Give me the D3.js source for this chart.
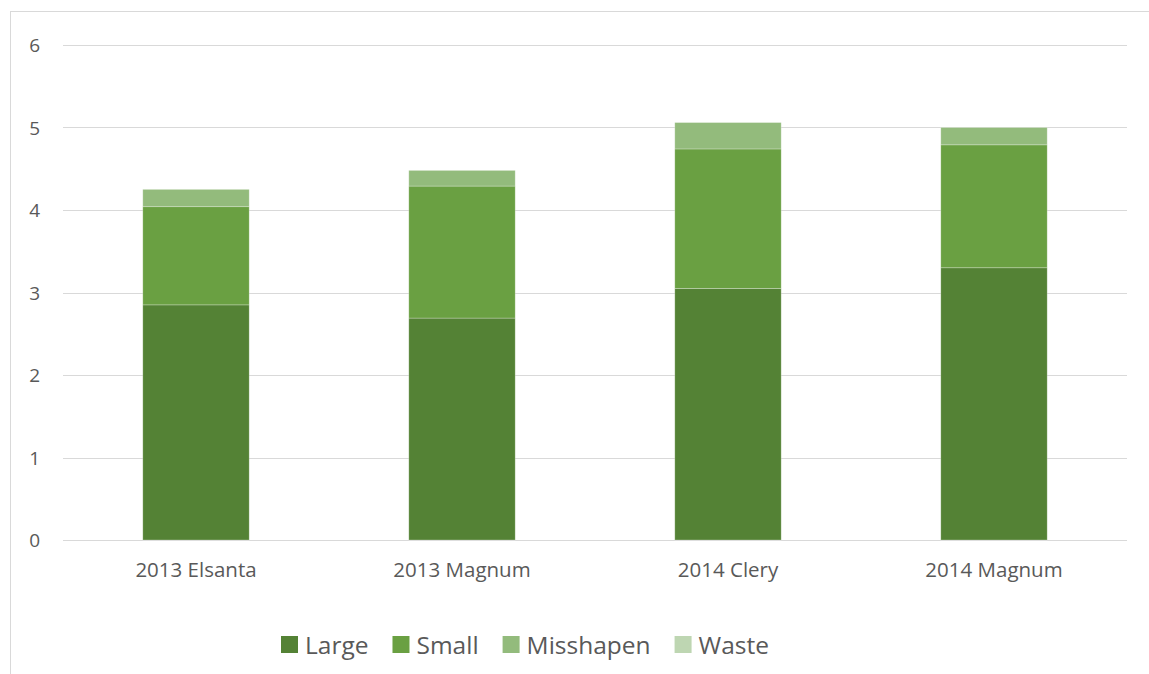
<!DOCTYPE html>
<html><head><meta charset="utf-8">
<script src="https://cdn.jsdelivr.net/npm/d3@7"></script>
<style>body{margin:0;background:#fff;} svg{display:block;font-family:"Open Sans","Liberation Sans",sans-serif;}</style>
</head><body>
<svg id="c" width="1149" height="674"></svg>
<script>
const categories = ["2013 Elsanta", "2013 Magnum", "2014 Clery", "2014 Magnum"];
const seriesNames = ["Large", "Small", "Misshapen", "Waste"];
const large = [2.85, 2.69, 3.05, 3.30];
const small = [1.19, 1.60, 1.69, 1.49];
const misshapen = [0.21, 0.19, 0.32, 0.21];
const waste = [0, 0, 0, 0];
const yTicks = [0, 1, 2, 3, 4, 5, 6];
const colors = ["#548235", "#6aa042", "#93bb7c", "#bed6b2"];

const rows = categories.map((c, i) => ({cat: c, Large: large[i], Small: small[i], Misshapen: misshapen[i], Waste: waste[i]}));
const stack = d3.stack().keys(seriesNames)(rows);

const svg = d3.select("#c");
const FONT = "Open Sans, Liberation Sans, sans-serif";
svg.append("rect").attr("x", 10.5).attr("y", 11.5).attr("width", 1300).attr("height", 800)
  .attr("fill", "none").attr("stroke", "#d9d9d9");

const x = d3.scaleBand().domain(categories).range([63, 1127]).paddingInner(0.6).paddingOuter(0.3);
const y = d3.scaleLinear().domain([0, 6]).range([540, 45]);

const grid = svg.append("g");
grid.selectAll("line").data(yTicks).join("line")
  .attr("x1", 63).attr("x2", 1127)
  .attr("y1", d => Math.round(y(d)) + 0.5).attr("y2", d => Math.round(y(d)) + 0.5)
  .attr("stroke", "#d9d9d9").attr("stroke-width", 1);

const yAxis = d3.axisLeft(y).tickValues(yTicks).tickFormat(d3.format("d")).tickSize(0).tickPadding(0);
const ya = svg.append("g").attr("transform", "translate(40,0)").call(yAxis)
  .attr("font-family", FONT).attr("font-size", 19);
ya.select(".domain").remove();
ya.selectAll("text").attr("fill", "#595959").attr("dy", "0.36em");

svg.append("g").selectAll("g").data(stack).join("g")
  .attr("fill", (d, i) => colors[i])
  .selectAll("rect").data(d => d).join("rect")
  .attr("x", d => x(d.data.cat))
  .attr("width", x.bandwidth())
  .attr("y", d => y(d[1]))
  .attr("height", d => Math.max(0, y(d[0]) - y(d[1])))
  .attr("stroke", "#ffffff").attr("stroke-opacity", 0.35).attr("stroke-width", 0.75);

const xAxis = d3.axisBottom(x).tickSize(0).tickPadding(0);
const xa = svg.append("g").attr("transform", "translate(0,577)").call(xAxis)
  .attr("font-family", FONT).attr("font-size", 20.5);
xa.select(".domain").remove();
xa.selectAll("text").attr("fill", "#595959").attr("dy", "0");

// legend
const leg = svg.append("g").attr("font-family", FONT);
let lx = 281;
seriesNames.forEach((n, i) => {
  leg.append("rect").attr("x", lx).attr("y", 636).attr("width", 17).attr("height", 17).attr("fill", colors[i]);
  const t = leg.append("text").attr("x", lx + 24).attr("y", 654).attr("font-size", 24.5).attr("fill", "#595959").text(n);
  const w = t.node().getComputedTextLength();
  lx = lx + 24 + w + 24;
});
</script>
</body></html>
